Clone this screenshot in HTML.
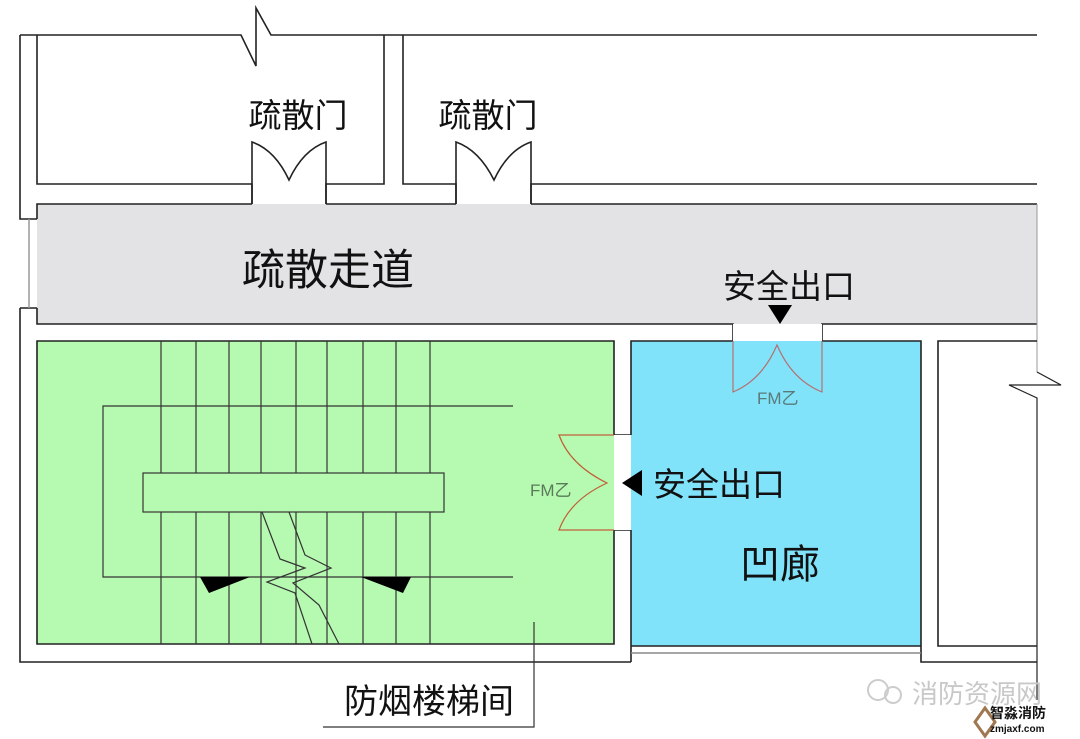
<!DOCTYPE html>
<html><head><meta charset="utf-8"><style>
html,body{margin:0;padding:0;background:#fff;}
svg{display:block;}
text{font-family:"Liberation Sans","Noto Sans CJK SC",sans-serif;}
</style></head><body>
<svg width="1080" height="739" viewBox="0 0 1080 739" xmlns="http://www.w3.org/2000/svg">
<rect width="1080" height="739" fill="#fff"/>
<rect x="37" y="204" width="1000" height="120" fill="#e3e2e4"/>
<rect x="37" y="341" width="577" height="303" fill="#b6f9b0"/>
<rect x="631" y="341" width="290" height="305" fill="#80e3fa"/>
<g stroke="#222" stroke-width="1.6" fill="none">
<polyline points="37,35 241,35 256,66 256,8 271,35 1037,35"/>
<line x1="20" y1="35" x2="37" y2="35"/>
<polyline points="20,35 20,219 37,219"/>
<polyline points="37,35 37,184 252,184 252,204"/>
<polyline points="20,308 37,308"/>
<polyline points="20,308 20,662 631,662"/>
<polyline points="384,35 384,184 326,184 326,204"/>
<polyline points="403,35 403,184 456,184 456,204"/>
<polyline points="531,204 531,184 1037,184"/>
<polyline points="37,219 37,204 252,204"/>
<line x1="326" y1="204" x2="456" y2="204"/>
<line x1="531" y1="204" x2="1037" y2="204"/>
<polyline points="37,308 37,324 733,324 733,341"/>
<polyline points="822,341 822,324 1037,324"/>
<line x1="1037" y1="204" x2="1037" y2="372" stroke="#999" stroke-width="1"/>
<polyline points="1037,372 1061,385 1009,385 1037,398 1037,700" stroke-width="1.2"/>
<polyline points="614,435 614,341 37,341 37,644 614,644 614,530"/>
<polyline points="631,435 631,341 733,341"/>
<polyline points="822,341 921,341 921,662 1037,662"/>
<polyline points="631,530 631,662"/>
<line x1="631" y1="646" x2="921" y2="646"/>
<line x1="631" y1="653" x2="921" y2="653" stroke="#888"/>
<line x1="614" y1="435" x2="631" y2="435"/>
<line x1="614" y1="530" x2="631" y2="530"/>
<polyline points="1037,341 938,341 938,646 1037,646"/>
<path d="M252,204 V142 Q275,150 289,180 Q303,150 326,142 V204"/>
<path d="M456,204 V142 Q479,150 494,180 Q508,150 531,142 V204"/>
</g>
<line x1="29" y1="219" x2="29" y2="308" stroke="#999" stroke-width="1.5"/>
<g stroke="#333" stroke-width="1.2" fill="none">
<line x1="161" y1="341" x2="161" y2="644"/><line x1="196" y1="341" x2="196" y2="644"/>
<line x1="229" y1="341" x2="229" y2="644"/><line x1="261" y1="341" x2="261" y2="644"/>
<line x1="296" y1="341" x2="296" y2="644"/><line x1="327" y1="341" x2="327" y2="644"/>
<line x1="363" y1="341" x2="363" y2="644"/><line x1="396" y1="341" x2="396" y2="644"/>
<line x1="430" y1="341" x2="430" y2="644"/>
<polyline points="513,406 103,406 103,577 513,577"/>
</g>
<rect x="143" y="473" width="301" height="39" fill="#b6f9b0" stroke="#333" stroke-width="1.2"/>
<g stroke="#333" stroke-width="1.2">
<polyline points="262,512 280,559 305,568 267,582 295,593 312,644" fill="none"/>
<polyline points="289,512 305,555 331,568 293,583 319,605 339,644" fill="none"/>
</g>
<polygon points="200,577 250,577 209,593" fill="#000"/>
<polygon points="361,577 411,577 403,593" fill="#000"/>
<rect x="733" y="324" width="89" height="17" fill="#fff"/>
<rect x="614" y="435" width="17" height="95" fill="#fff"/>
<path d="M733,341 V392 Q762,380 777,345 Q792,380 822,392 V341" fill="none" stroke="#b57070" stroke-width="1.2"/>
<path d="M614,435 H559 Q570,465 607,483 Q570,500 559,530 H614" fill="none" stroke="#c0603a" stroke-width="1.2"/>
<polygon points="768,305 792,305 780,324" fill="#000"/>
<polygon points="622,483 642,470 642,496" fill="#000"/>
<polyline points="534,622 534,727 323,727" fill="none" stroke="#333" stroke-width="1.2"/>
<g fill="#111">
<text x="298" y="127" font-size="33" text-anchor="middle">疏散门</text>
<text x="488" y="127" font-size="33" text-anchor="middle">疏散门</text>
<text x="328" y="285" font-size="43" text-anchor="middle">疏散走道</text>
<text x="789" y="298" font-size="33" text-anchor="middle">安全出口</text>
<text x="719" y="496" font-size="33" text-anchor="middle">安全出口</text>
<text x="780" y="578" font-size="40" text-anchor="middle">凹廊</text>
<text x="429" y="713" font-size="34" text-anchor="middle">防烟楼梯间</text>
</g>
<text x="757" y="404" font-size="17" fill="#5a7a7a">FM乙</text>
<text x="530" y="496" font-size="17" fill="#5a7a5a">FM乙</text>
<text x="912" y="703" font-size="26" fill="#c8c8c8">消防资源网</text>
<circle cx="878" cy="690" r="10" fill="none" stroke="#ccc" stroke-width="2"/>
<circle cx="893" cy="695" r="8" fill="none" stroke="#ccc" stroke-width="2"/>
<polygon points="975,722 985,708 995,722 985,736" fill="none" stroke="#a07850" stroke-width="3"/>
<text x="990" y="718" font-size="14" fill="#111" font-weight="bold">智淼消防</text>
<text x="990" y="732" font-size="10" fill="#111" font-weight="bold">zmjaxf.com</text>
</svg>
</body></html>
